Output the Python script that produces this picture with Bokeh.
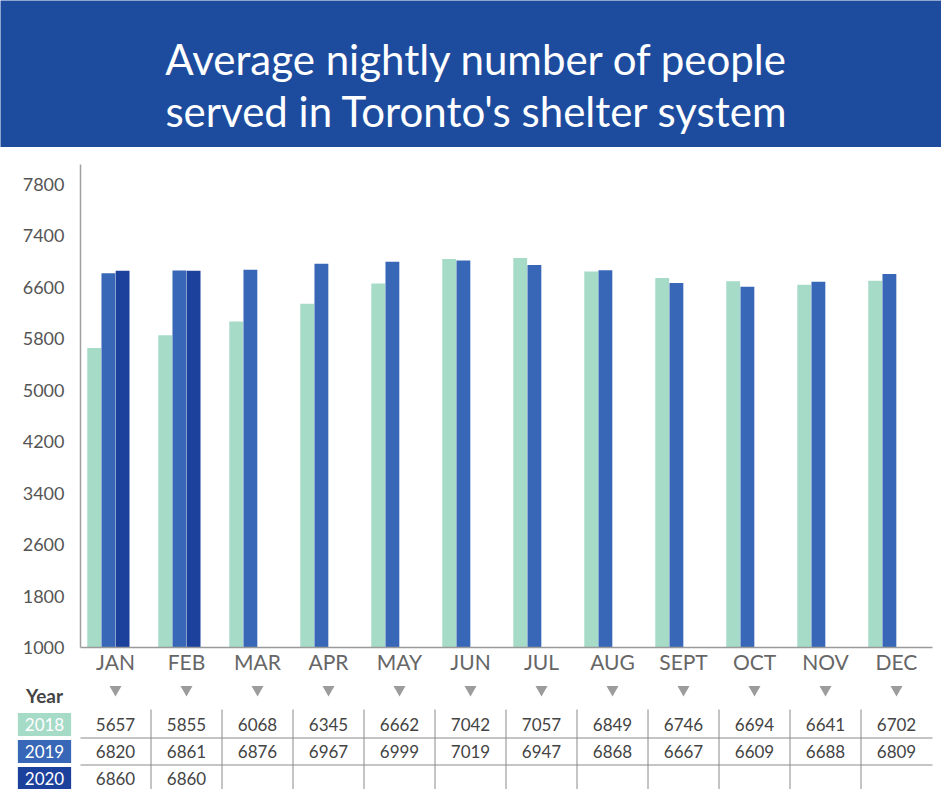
from bokeh.plotting import figure
from bokeh.layouts import column
from bokeh.models import Range1d, FixedTicker, ColumnDataSource
from bokeh.core.properties import value
from bokeh.transform import dodge
from bokeh.embed import file_html
from bokeh.resources import INLINE

# ---------------- data ----------------
title_lines = ["Average nightly number of people", "served in Toronto's shelter system"]
months = ["JAN", "FEB", "MAR", "APR", "MAY", "JUN", "JUL", "AUG", "SEPT", "OCT", "NOV", "DEC"]
years = ["2018", "2019", "2020"]
y2018 = [5657, 5855, 6068, 6345, 6662, 7042, 7057, 6849, 6746, 6694, 6641, 6702]
y2019 = [6820, 6861, 6876, 6967, 6999, 7019, 6947, 6868, 6667, 6609, 6688, 6809]
y2020 = [6860, 6860]
y_tick_values = [1000, 1800, 2600, 3400, 4200, 5000, 5800, 6600, 7400, 8200]
y_tick_labels = ["1000", "1800", "2600", "3400", "4200", "5000", "5800", "6600", "7400", "7800"]

# ---------------- style ----------------
FONT = "Lato"
BANNER = "#1d4c9f"
C18 = "#a6dbc8"
C19 = "#3767b6"
C20 = "#1c419c"
W = 941
PX_PER_MONTH = 71.0
FRAME_LEFT = 80
FRAME_RIGHT = 9
FIRST_CENTER = 115  # figure px of first month centre
FRAME_W = W - FRAME_LEFT - FRAME_RIGHT
x0 = (FIRST_CENTER - FRAME_LEFT) / -PX_PER_MONTH
x1 = x0 + FRAME_W / PX_PER_MONTH

TOTAL_H = 789
BH = 147
CH_TOP = 17
CH_FRAME = 483
CH_BOTTOM = 30
CH = CH_TOP + CH_FRAME + CH_BOTTOM
TH = TOTAL_H - BH - CH

# ---------------- banner ----------------
banner = figure(width=W, height=BH, x_range=Range1d(0, W), y_range=Range1d(BH, 0),
                output_backend="svg", toolbar_location=None, frame_align=False,
                x_axis_location=None, y_axis_location=None, min_border=0)
banner.background_fill_color = BANNER
banner.border_fill_color = BANNER
banner.outline_line_color = None
banner.xgrid.visible = False
banner.ygrid.visible = False
banner.text(x=[W / 2 + 6, W / 2 + 6], y=[58, 110], text=title_lines, text_color="white",
            text_font=value(FONT), text_font_size="42px", text_align="center",
            text_baseline="middle")

# ---------------- chart ----------------
chart = figure(width=W, height=CH, x_range=Range1d(x0, x1), y_range=Range1d(1000, 8511),
               output_backend="svg", toolbar_location=None, frame_align=False,
               min_border_left=FRAME_LEFT, min_border_right=FRAME_RIGHT,
               min_border_top=CH_TOP, min_border_bottom=CH_BOTTOM)
chart.outline_line_color = None
chart.xgrid.visible = False
chart.ygrid.visible = False
chart.background_fill_color = "white"
chart.border_fill_color = "white"

idx = list(range(len(months)))
src18 = ColumnDataSource(dict(x=idx, top=y2018))
src19 = ColumnDataSource(dict(x=idx, top=y2019))
src20 = ColumnDataSource(dict(x=idx[:len(y2020)], top=y2020))
BW = 0.195
chart.vbar(x=dodge("x", -0.3, range=chart.x_range), top="top", bottom=1000, width=BW,
           source=src18, fill_color=C18, line_color=None)
chart.vbar(x=dodge("x", -0.1, range=chart.x_range), top="top", bottom=1000, width=BW,
           source=src19, fill_color=C19, line_color=None)
chart.vbar(x=dodge("x", 0.1, range=chart.x_range), top="top", bottom=1000, width=BW,
           source=src20, fill_color=C20, line_color=None)

xa = chart.xaxis[0]
xa.ticker = FixedTicker(ticks=idx)
xa.major_label_overrides = {i: m for i, m in zip(idx, months)}
xa.major_tick_line_color = None
xa.minor_tick_line_color = None
xa.major_tick_out = 0
xa.major_tick_in = 0
xa.minor_tick_out = 0
xa.axis_label_standoff = 0
xa.axis_line_color = "#9a9a9a"
xa.axis_line_width = 1.5
xa.major_label_standoff = 1
xa.major_label_text_font = FONT
xa.major_label_text_font_size = "21px"
xa.major_label_text_color = "#666666"

ya = chart.yaxis[0]
ya.ticker = FixedTicker(ticks=y_tick_values)
ya.major_label_overrides = {v: l for v, l in zip(y_tick_values, y_tick_labels)}
ya.major_tick_line_color = None
ya.minor_tick_line_color = None
ya.major_tick_out = 0
ya.major_tick_in = 0
ya.minor_tick_out = 0
ya.axis_line_color = "#a0a0a0"
ya.axis_line_width = 1.5
ya.major_label_standoff = 16
ya.major_label_text_font = FONT
ya.major_label_text_font_size = "18px"
ya.major_label_text_color = "#555555"

# ---------------- table ----------------
tx0 = x0 - FRAME_LEFT / PX_PER_MONTH
tx1 = x1 + FRAME_RIGHT / PX_PER_MONTH
table = figure(width=W, height=TH, x_range=Range1d(tx0, tx1), y_range=Range1d(TH, 0),
               output_backend="svg", toolbar_location=None, frame_align=False,
               x_axis_location=None, y_axis_location=None, min_border=0)
table.outline_line_color = None
table.xgrid.visible = False
table.ygrid.visible = False

ROW0 = 47
ROWH = 27
row_y = [ROW0 + k * ROWH for k in range(len(years))]
label_x = -1.0

# arrows under month labels
table.scatter(x=idx, y=[12] * len(idx), marker="inverted_triangle", size=12,
              fill_color="#9c9c9c", line_color=None)
table.text(x=[label_x], y=[18], text=["Year"], text_font=value(FONT), text_font_size="19px",
           text_font_style="bold", text_color="#444444", text_align="center",
           text_baseline="middle")

# grid lines
table.segment(x0=[i + 0.5 for i in idx[:-1]], x1=[i + 0.5 for i in idx[:-1]],
              y0=[32] * (len(idx) - 1), y1=[TH] * (len(idx) - 1),
              line_color="#8a8a8a", line_width=1)
table.segment(x0=[x0] * 2, x1=[x1] * 2,
              y0=[ROW0 + ROWH / 2, ROW0 + 3 * ROWH / 2],
              y1=[ROW0 + ROWH / 2, ROW0 + 3 * ROWH / 2],
              line_color="#8a8a8a", line_width=1)

# year boxes
table.rect(x=[label_x] * 3, y=row_y, width=0.75, height=23,
           fill_color=[C18, C19, C20], line_color=None)
table.text(x=[label_x] * 3, y=row_y, text=years, text_font=value(FONT),
           text_font_size="17px", text_color="white", text_align="center",
           text_baseline="middle")

# values
vx, vy, vt = [], [], []
for k, series in enumerate([y2018, y2019, y2020]):
    for i, v in enumerate(series):
        vx.append(i)
        vy.append(row_y[k])
        vt.append(str(v))
table.text(x=vx, y=vy, text=vt, text_font=value(FONT), text_font_size="17px",
           text_color="#444444", text_align="center", text_baseline="middle")

layout = column(banner, chart, table, spacing=0)
open("out.html", "w").write(file_html(layout, INLINE))
